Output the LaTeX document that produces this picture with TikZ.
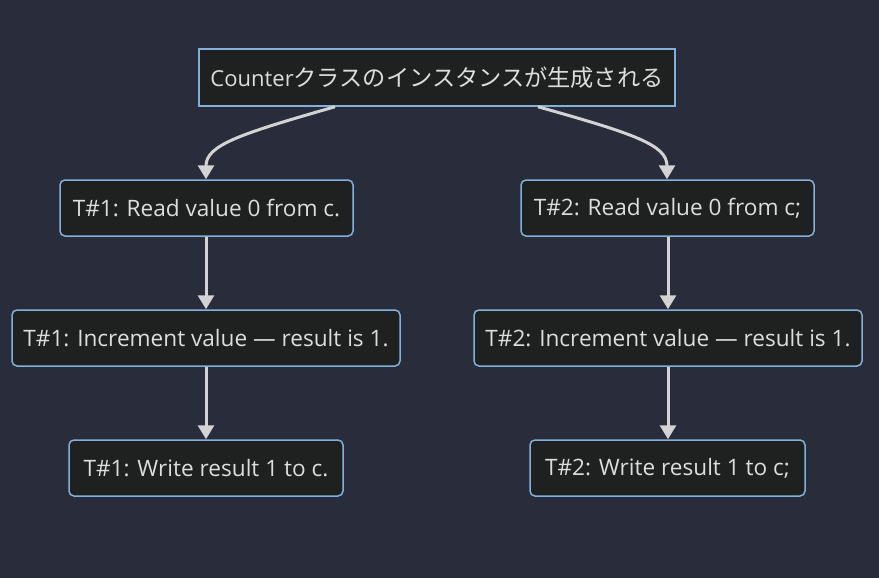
\documentclass[tikz,border=0pt]{standalone}
\usepackage{fontspec}
\setmainfont{Open Sans}
\newfontfamily\cjkfont{Noto Sans CJK JP}
\usetikzlibrary{arrows.meta}
\definecolor{bgc}{HTML}{282C3B}
\definecolor{nodefill}{HTML}{1F2020}
\definecolor{nodeborder}{HTML}{81B1DB}
\definecolor{txtc}{HTML}{DDDDDD}
\definecolor{linec}{HTML}{D3D3D3}
\tikzset{
  box/.style={draw=nodeborder, fill=nodefill, line width=1.5pt, text=txtc,
    font=\fontsize{22.6}{26}\selectfont, inner sep=0pt, anchor=center},
  rbox/.style={box, rounded corners=5pt},
  conn/.style={draw=linec, line width=3pt, -{Triangle[width=16pt,length=14pt]}}
}
\begin{document}
\begin{tikzpicture}[x=1pt,y=-1pt]
\fill[bgc] (0,0) rectangle (879,578);
\useasboundingbox (0,0) rectangle (879,578);
\node[box, minimum width=476pt, minimum height=57pt] (top) at (437,77.5)
  {{\fontsize{22}{26}\selectfont Counter}{\cjkfont\fontsize{23.2}{26}\selectfont クラスのインスタンスが生成される}};
\node[rbox, minimum width=293pt, minimum height=56pt] (r1) at (206.5,208) {T\#1: Read value 0 from c.};
\node[rbox, minimum width=293pt, minimum height=56pt] (r2) at (667.5,208) {T\#2: Read value 0 from c;};
\node[rbox, minimum width=388pt, minimum height=56pt] (i1) at (206,338) {T\#1: Increment value — result is 1.};
\node[rbox, minimum width=388pt, minimum height=56pt] (i2) at (668,338) {T\#2: Increment value — result is 1.};
\node[rbox, minimum width=274pt, minimum height=56pt] (w1) at (206,468) {T\#1: Write result 1 to c.};
\node[rbox, minimum width=275pt, minimum height=56pt] (w2) at (667.5,468) {T\#2: Write result 1 to c;};
\coordinate (tl) at ([xshift=-102pt]top.south);
\coordinate (tr) at ([xshift=101pt]top.south);
\draw[conn] (tl) .. controls (240,134) and (206,145) .. (r1.north -| 206,0);
\draw[conn] (tr) .. controls (635,134) and (667,145) .. (r2.north -| 667,0);
\draw[conn] (r1.south -| 206,0) -- (i1.north -| 206,0);
\draw[conn] (r2.south -| 668,0) -- (i2.north -| 668,0);
\draw[conn] (i1.south -| 206,0) -- (w1.north -| 206,0);
\draw[conn] (i2.south -| 668,0) -- (w2.north -| 668,0);
\end{tikzpicture}
\end{document}
